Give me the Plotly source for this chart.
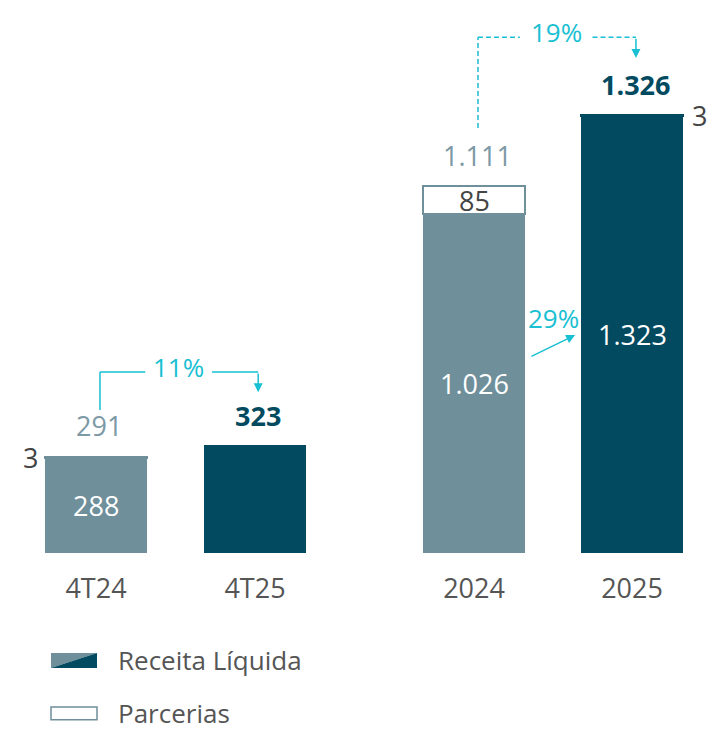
import plotly.graph_objects as go
from plotly.subplots import make_subplots

# Data (R$ milhões)
tri_labels = ['4T24', '4T25']
tri_receita = [288, 323]
tri_parcerias = [3, 0]

ano_labels = ['2024', '2025']
ano_receita = [1026, 1323]
ano_parcerias = [85, 3]

var_tri = '11%'
var_ano = '19%'
var_receita_ano = '29%'

GRAY_BLUE = '#6f8f9b'
DARK = '#024a60'
TEAL = '#19bfd2'
TXT = '#555555'
FONT = 'Open Sans, Noto Sans, sans-serif'

W, H = 709, 727  # page body adds an 8px margin


def fmt(v):
    return f"{v:,}".replace(',', '.')


fig = make_subplots(rows=1, cols=2, shared_yaxes=False, horizontal_spacing=0.0)

groups = [
    (tri_labels, tri_receita, tri_parcerias, 1),
    (ano_labels, ano_receita, ano_parcerias, 2),
]

for labels, receita, parcerias, col in groups:
    fig.add_trace(go.Bar(
        x=labels, y=receita,
        marker=dict(color=[GRAY_BLUE, DARK], line=dict(width=0)),
        name='Receita Líquida', showlegend=False, hoverinfo='skip'
    ), row=1, col=col)
    fig.add_trace(go.Bar(
        x=labels, y=parcerias,
        marker=dict(color='white', line=dict(color=[GRAY_BLUE, DARK], width=2)),
        name='Parcerias', showlegend=False, hoverinfo='skip'
    ), row=1, col=col)

fig.update_layout(
    barmode='stack',
    bargap=0.36,
    width=W, height=H,
    margin=dict(l=0, r=0, t=12, b=182),
    paper_bgcolor='white', plot_bgcolor='white',
    font=dict(family=FONT, color=TXT),
    showlegend=False,
    xaxis=dict(domain=[8.5 / W, 326.5 / W]),
    xaxis2=dict(domain=[387 / W, 703 / W]),
)
fig.update_xaxes(type='category', showline=False, showgrid=False, zeroline=False,
                 ticks='outside', ticklen=12, tickcolor='rgba(0,0,0,0)',
                 tickfont=dict(size=27, color=TXT, family=FONT), automargin=False)
fig.update_yaxes(visible=False, range=[0, 1614], automargin=False)

ann = []

# totals above bars
for labels, receita, parcerias, xr, yr in [
    (tri_labels, tri_receita, tri_parcerias, 'x', 'y'),
    (ano_labels, ano_receita, ano_parcerias, 'x2', 'y2'),
]:
    for i, lab in enumerate(labels):
        total = receita[i] + parcerias[i]
        last = i == len(labels) - 1
        ann.append(dict(
            x=i, y=total, xref=xr, yref=yr, yshift=31, xshift=3, showarrow=False,
            text=f"<b>{fmt(total)}</b>" if last else fmt(total),
            font=dict(size=27, color=DARK if last else '#7d99a5', family=FONT),
        ))

# inside receita labels
ann.append(dict(x=0, y=tri_receita[0] / 2, xref='x', yref='y', showarrow=False,
                text=fmt(tri_receita[0]), font=dict(size=27, color='white')))
for i, lab in enumerate(ano_labels):
    ann.append(dict(x=i, y=ano_receita[i] / 2, xref='x2', yref='y2', showarrow=False,
                    text=fmt(ano_receita[i]), font=dict(size=27, color='white')))

# parcerias labels
ann.append(dict(x=-0.415, y=tri_receita[0] + tri_parcerias[0] / 2, xref='x', yref='y',
                showarrow=False, text=fmt(tri_parcerias[0]),
                font=dict(size=27, color='#444444')))
ann.append(dict(x=0, y=ano_receita[0] + ano_parcerias[0] / 2, xref='x2', yref='y2',
                showarrow=False, text=fmt(ano_parcerias[0]),
                font=dict(size=27, color='#444444')))
ann.append(dict(x=1.43, y=ano_receita[1] + ano_parcerias[1], xref='x2', yref='y2',
                showarrow=False, text=fmt(ano_parcerias[1]),
                font=dict(size=27, color='#444444')))

# variation labels
ann.append(dict(x=0.516, y=563, xref='x', yref='y', showarrow=False, text=var_tri,
                font=dict(size=26, color=TEAL)))
ann.append(dict(x=0.52, y=1577, xref='x2', yref='y2', showarrow=False, text=var_ano,
                font=dict(size=26, color=TEAL)))
ann.append(dict(x=0.50, y=711, xref='x2', yref='y2', showarrow=False, text=var_receita_ano,
                font=dict(size=26, color=TEAL)))

# arrows
arrow = dict(showarrow=True, arrowhead=2, arrowsize=1.2, arrowwidth=1.5,
             arrowcolor=TEAL, text='')
ann.append(dict(x=1.02, y=487, ax=1.02, ay=548, xref='x', yref='y', axref='x', ayref='y', **arrow))
ann.append(dict(x=1.025, y=1499, ax=1.025, ay=1562, xref='x2', yref='y2',
                axref='x2', ayref='y2', **arrow))
ann.append(dict(x=0.64, y=660, ax=0.354, ay=593, xref='x2', yref='y2',
                axref='x2', ayref='y2', **arrow))

# legend text
ann.append(dict(x=108 / W, y=-0.2008, xref='paper', yref='paper', xanchor='left',
                yanchor='middle', showarrow=False, text='Receita Líquida',
                font=dict(size=26, color=TXT)))
ann.append(dict(x=108 / W, y=-0.300, xref='paper', yref='paper', xanchor='left',
                yanchor='middle', showarrow=False, text='Parcerias',
                font=dict(size=26, color=TXT)))

fig.update_layout(annotations=ann)

shapes = []
solid = dict(color=TEAL, width=1.5)
dashed = dict(color=TEAL, width=1.5, dash='5px,3px')
# 11% bracket
shapes += [
    dict(type='line', xref='x', yref='y', x0=0.025, x1=0.025, y0=433, y1=548, line=solid),
    dict(type='line', xref='x', yref='y', x0=0.025, x1=0.31, y0=548, y1=548, line=solid),
    dict(type='line', xref='x', yref='y', x0=0.73, x1=1.02, y0=548, y1=548, line=solid),
]
# 19% bracket
shapes += [
    dict(type='line', xref='x2', yref='y2', x0=0.025, x1=0.025, y0=1287, y1=1562, line=dashed),
    dict(type='line', xref='x2', yref='y2', x0=0.025, x1=0.29, y0=1562, y1=1562, line=dashed),
    dict(type='line', xref='x2', yref='y2', x0=0.75, x1=1.025, y0=1562, y1=1562, line=dashed),
]

# legend icons
x0, x1 = 43 / W, 89 / W
ya, yb = -0.1876, -0.2158
shapes.append(dict(type='path', xref='paper', yref='paper',
                   path=f'M {x0} {ya} L {x1} {ya} L {x0} {yb} Z',
                   fillcolor=GRAY_BLUE, line=dict(width=0)))
shapes.append(dict(type='path', xref='paper', yref='paper',
                   path=f'M {x1} {ya} L {x1} {yb} L {x0} {yb} Z',
                   fillcolor=DARK, line=dict(width=0)))
shapes.append(dict(type='rect', xref='paper', yref='paper',
                   x0=x0, x1=x1, y0=-0.289, y1=-0.313,
                   fillcolor='white', line=dict(color=GRAY_BLUE, width=1.5)))

fig.update_layout(shapes=shapes)

fig.write_html('out.html')
